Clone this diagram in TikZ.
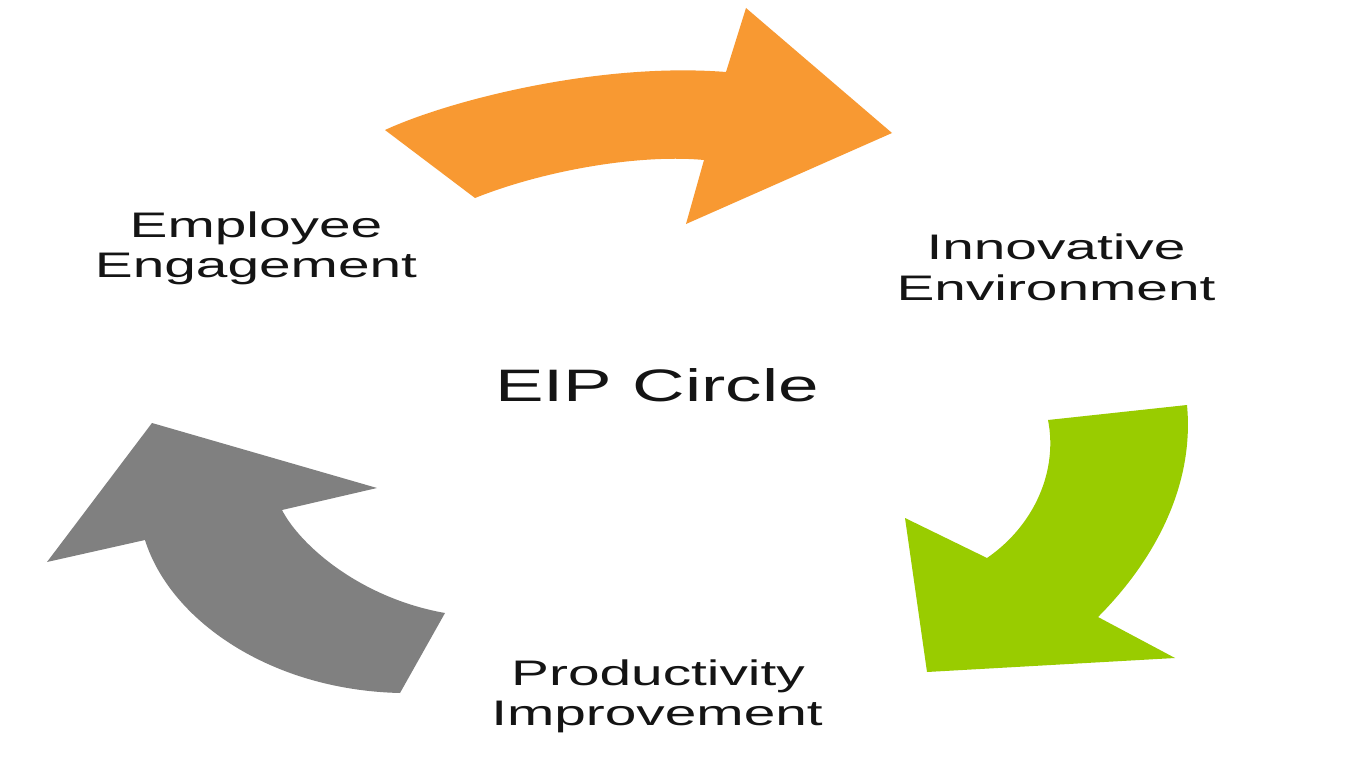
\documentclass[tikz,border=0pt]{standalone}
\usepackage{graphicx}
\usepackage{fontspec}
\setmainfont{Liberation Sans}
\definecolor{arrOrange}{RGB}{248,153,50}
\definecolor{arrGreen}{RGB}{153,204,0}
\definecolor{arrGray}{RGB}{128,128,128}
\definecolor{txt}{RGB}{20,20,20}
\newcommand\stretchtxt[1]{\scalebox{1.6}[1]{#1}}
\tikzset{
  lbl/.style={anchor=base, inner sep=0pt, text=txt, font=\fontsize{35.5}{40}\selectfont},
  title/.style={anchor=base, inner sep=0pt, text=txt, font=\fontsize{45.5}{50}\selectfont}
}
\begin{document}
\begin{tikzpicture}[x=1pt,y=-1pt]
\useasboundingbox[fill=white] (0,0) rectangle (1366,768);
% orange arrow
\fill[arrOrange] (385,130) .. controls (450,100) and (600,62) .. (726,72) -- (746,8) -- (892,133) -- (686,224) -- (704,160) .. controls (640,154) and (545,170) .. (475,198) -- cycle;
% green arrow
\fill[arrGreen] (1187,405) -- (1048,420) .. controls (1058,470) and (1035,525) .. (987,558) -- (905,518) -- (927,672) -- (1175,658) -- (1098,617) .. controls (1150,565) and (1195,490) .. (1187,405) -- cycle;
% gray arrow
\fill[arrGray] (152,423) -- (377,488) -- (282,510) .. controls (300,545) and (360,598) .. (445,613) -- (400,693) .. controls (270,690) and (170,620) .. (145,540) -- (47,562) -- cycle;
% labels
\node[lbl] (ee1) at (256,237) {\stretchtxt{Employee}};
\node[lbl] (ee2) at (256,277) {\stretchtxt{Engagement}};
\node[lbl] (ie1) at (1056,259) {\stretchtxt{Innovative}};
\node[lbl] (ie2) at (1056,300) {\stretchtxt{Environment}};
\node[lbl] (pi1) at (658,685) {\stretchtxt{Productivity}};
\node[lbl] (pi2) at (657,725) {\stretchtxt{Improvement}};
\node[title] (eip) at (657,401) {\stretchtxt{EIP Circle}};
\end{tikzpicture}
\end{document}
